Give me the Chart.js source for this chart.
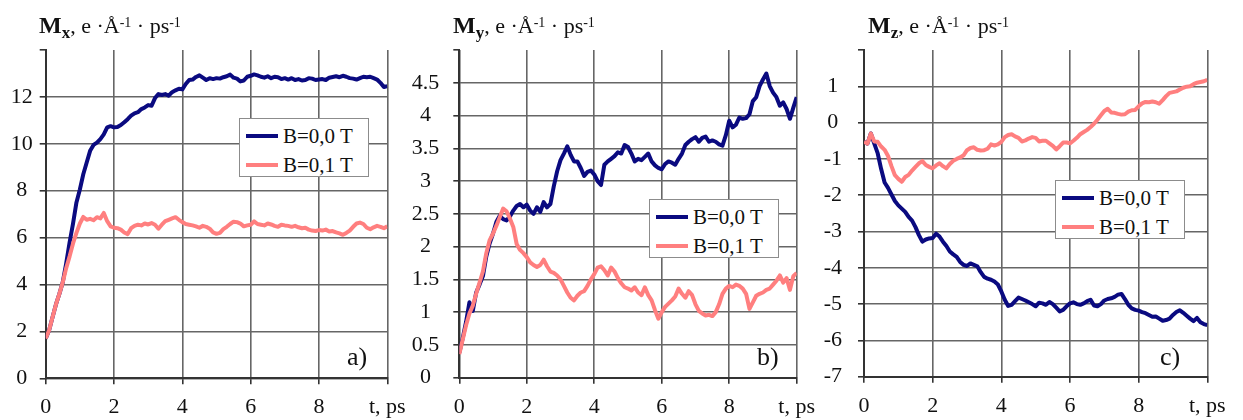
<!DOCTYPE html>
<html>
<head>
<meta charset="utf-8">
<script src="https://cdn.jsdelivr.net/npm/chart.js@4.4.1/dist/chart.umd.min.js"></script>
<style>
  html, body { margin: 0; padding: 0; background: #fff; }
  #wrap { position: relative; width: 1243px; height: 420px; overflow: hidden;
          font-family: "Liberation Serif", "Times New Roman", serif; color: #111; }
  #wrap canvas { position: absolute; top: 0; }
  .ttl { position: absolute; top: 13.5px; font-size: 22px; line-height: 22px; white-space: nowrap; }
  .ttl b { font-weight: bold; font-size: 24px; }
  .ttl .sb { font-size: 17px; position: relative; top: 5px; font-weight: bold; }
  .ttl .sp { font-size: 14px; position: relative; top: -6px; }
  .lg { position: absolute; width: 128px; height: 57px; border: 1px solid #8c8c8c; background: #fff; }
  .lg .row { position: absolute; left: 0; width: 128px; height: 24px; line-height: 24px; font-size: 21px; white-space: nowrap; }
  .lg .sw { position: absolute; left: 6px; top: 10px; width: 32px; height: 4px; }
  .lg .tx { position: absolute; left: 43px; top: 0; }
  .tag { position: absolute; top: 343.7px; font-size: 26px; line-height: 26px; }
</style>
</head>
<body>
<div id="wrap">
  <canvas id="cx" width="420" height="420" style="left:0px"></canvas>
  <canvas id="cy" width="430" height="420" style="left:410px"></canvas>
  <canvas id="cz" width="428" height="420" style="left:815px"></canvas>

  <div class="ttl" style="left:39px"><b>M</b><span class="sb">x</span>, e ·Å<span class="sp">-1</span> · ps<span class="sp">-1</span></div>
  <div class="ttl" style="left:453px"><b>M</b><span class="sb">y</span>, e ·Å<span class="sp">-1</span> · ps<span class="sp">-1</span></div>
  <div class="ttl" style="left:868px"><b>M</b><span class="sb">z</span>, e ·Å<span class="sp">-1</span> · ps<span class="sp">-1</span></div>

  <div class="lg" id="lgx" style="left:239px; top:118px"></div>
  <div class="lg" id="lgy" style="left:649px; top:199px"></div>
  <div class="lg" id="lgz" style="left:1055px; top:180px"></div>

  <div class="tag" style="left:347px">a)</div>
  <div class="tag" style="left:757px">b)</div>
  <div class="tag" style="left:1160px">c)</div>
</div>

<script>
// Time axis, ps
const timePs = [
  0, 0.1, 0.2, 0.3, 0.4, 0.5, 0.6, 0.7, 0.8, 0.9,
  1, 1.1, 1.2, 1.3, 1.4, 1.5, 1.6, 1.7, 1.8, 1.9,
  2, 2.1, 2.2, 2.3, 2.4, 2.5, 2.6, 2.7, 2.8, 2.9,
  3, 3.1, 3.2, 3.3, 3.4, 3.5, 3.6, 3.7, 3.8, 3.9,
  4, 4.1, 4.2, 4.3, 4.4, 4.5, 4.6, 4.7, 4.8, 4.9,
  5, 5.1, 5.2, 5.3, 5.4, 5.5, 5.6, 5.7, 5.8, 5.9,
  6, 6.1, 6.2, 6.3, 6.4, 6.5, 6.6, 6.7, 6.8, 6.9,
  7, 7.1, 7.2, 7.3, 7.4, 7.5, 7.6, 7.7, 7.8, 7.9,
  8, 8.1, 8.2, 8.3, 8.4, 8.5, 8.6, 8.7, 8.8, 8.9,
  9, 9.1, 9.2, 9.3, 9.4, 9.5, 9.6, 9.7, 9.8, 9.9,
  10
];

const seriesLabels = ['B=0,0 T', 'B=0,1 T'];

// Mx, e·Å^-1·ps^-1
const mxB00 = [
  1.7, 2.05, 2.6, 3.15, 3.6, 4.1, 4.9, 5.8, 6.6, 7.5,
  8.05, 8.7, 9.2, 9.7, 9.95, 10.05, 10.2, 10.4, 10.7, 10.75,
  10.7, 10.72, 10.8, 10.92, 11.05, 11.2, 11.3, 11.35, 11.48, 11.55,
  11.65, 11.62, 11.95, 12.12, 12.08, 12.12, 12.05, 12.2, 12.28, 12.35,
  12.32, 12.55, 12.72, 12.74, 12.85, 12.92, 12.82, 12.72, 12.8, 12.76,
  12.8, 12.78, 12.84, 12.88, 12.95, 12.82, 12.78, 12.66, 12.7, 12.86,
  12.9, 12.96, 12.92, 12.86, 12.82, 12.88, 12.8, 12.86, 12.84, 12.76,
  12.8, 12.74, 12.8, 12.72, 12.76, 12.7, 12.72, 12.8, 12.78, 12.72,
  12.74, 12.76, 12.72, 12.82, 12.85, 12.88, 12.84, 12.9, 12.86, 12.8,
  12.78, 12.74, 12.8, 12.86, 12.84, 12.86, 12.8, 12.74, 12.6, 12.42,
  12.46
];
const mxB01 = [
  1.7, 2.05, 2.6, 3.15, 3.6, 4.1, 4.7, 5.2, 5.75, 6.2,
  6.6, 6.88, 6.76, 6.8, 6.74, 6.87, 6.82, 7.05, 6.7, 6.48,
  6.42, 6.4, 6.34, 6.22, 6.15, 6.4, 6.5, 6.55, 6.52, 6.6,
  6.56, 6.62, 6.55, 6.38, 6.55, 6.7, 6.76, 6.82, 6.87, 6.76,
  6.66, 6.58, 6.55, 6.52, 6.48, 6.42, 6.5, 6.46, 6.38, 6.22,
  6.16, 6.2, 6.36, 6.46, 6.58, 6.68, 6.66, 6.6, 6.48, 6.52,
  6.55, 6.69, 6.58, 6.55, 6.52, 6.6, 6.56, 6.5, 6.46, 6.55,
  6.52, 6.5, 6.46, 6.5, 6.44, 6.4, 6.42, 6.34, 6.3, 6.28,
  6.32, 6.3, 6.34, 6.26, 6.28, 6.22, 6.18, 6.12, 6.2, 6.3,
  6.46, 6.6, 6.64, 6.58, 6.42, 6.36, 6.44, 6.5, 6.46, 6.4,
  6.48
];

// My, e·Å^-1·ps^-1
const myB00 = [
  0.38, 0.6, 0.85, 1.15, 1.02, 1.3, 1.42, 1.55, 1.85, 2.05,
  2.2, 2.38, 2.47, 2.42, 2.4, 2.46, 2.55, 2.62, 2.65, 2.6,
  2.64, 2.55, 2.5, 2.6, 2.53, 2.68, 2.6, 2.65, 2.92, 3.15,
  3.32, 3.42, 3.53, 3.4, 3.3, 3.3, 3.2, 3.08, 3.14, 3.16,
  3.1, 3.0, 2.94, 3.25, 3.3, 3.34, 3.38, 3.44, 3.42, 3.55,
  3.52, 3.42, 3.3, 3.34, 3.32, 3.37, 3.42, 3.3, 3.24, 3.2,
  3.18, 3.26, 3.3, 3.28, 3.25, 3.34, 3.42, 3.55, 3.6, 3.64,
  3.67, 3.6, 3.66, 3.68, 3.6, 3.62, 3.6, 3.56, 3.54, 3.7,
  3.92, 3.82, 3.86, 3.97, 3.95, 3.96, 4.02, 4.22, 4.28, 4.45,
  4.55, 4.64, 4.45, 4.35, 4.28, 4.15, 4.2, 4.1, 3.95, 4.12,
  4.28
];
const myB01 = [
  0.36, 0.58, 0.8, 0.98, 1.1, 1.28, 1.45, 1.62, 1.9, 2.1,
  2.2, 2.32, 2.45, 2.58, 2.54, 2.43, 2.3, 2.04, 1.95, 1.9,
  1.84, 1.76, 1.72, 1.69, 1.72, 1.8, 1.7, 1.62, 1.6, 1.56,
  1.5, 1.4, 1.3, 1.22, 1.18, 1.25, 1.3, 1.32, 1.4, 1.5,
  1.58, 1.68, 1.7, 1.64, 1.56, 1.68, 1.62, 1.52, 1.44, 1.38,
  1.36, 1.33, 1.38, 1.3, 1.26, 1.38, 1.26, 1.18, 1.03, 0.9,
  1.0, 1.08, 1.13, 1.18, 1.24, 1.36, 1.28, 1.22, 1.32, 1.26,
  1.12, 1.02, 0.98, 0.95, 0.96, 0.94, 1.0, 1.12, 1.28, 1.36,
  1.4, 1.38, 1.42, 1.4, 1.36, 1.28, 1.05, 1.15, 1.25, 1.28,
  1.3, 1.34, 1.36, 1.42, 1.48, 1.56, 1.45, 1.52, 1.34, 1.55,
  1.6
];

// Mz, e·Å^-1·ps^-1
const mzB00 = [
  -0.53, -0.58, -0.3, -0.58, -0.85, -1.28, -1.65, -1.8, -1.98, -2.16,
  -2.28, -2.37, -2.46, -2.6, -2.7, -2.88, -3.1, -3.28, -3.22, -3.19,
  -3.18, -3.06, -3.14, -3.28, -3.4, -3.55, -3.63, -3.7, -3.84, -3.92,
  -3.95, -3.88, -3.92, -3.96, -4.12, -4.25, -4.3, -4.33, -4.38, -4.46,
  -4.65, -4.88, -5.05, -5.02, -4.92, -4.82, -4.86, -4.9, -4.95, -5.0,
  -5.06, -4.96, -4.98, -5.02, -4.94, -5.0, -5.1, -5.2, -5.16, -5.06,
  -4.98, -4.95, -5.0, -5.02, -4.98, -4.92, -4.88, -5.04, -5.06, -5.0,
  -4.9, -4.86, -4.84, -4.8, -4.74, -4.72, -4.86, -5.02, -5.12, -5.16,
  -5.18, -5.22, -5.25, -5.3, -5.35, -5.34, -5.4, -5.46, -5.44, -5.4,
  -5.3, -5.22, -5.17, -5.24, -5.32, -5.4, -5.47, -5.38, -5.5, -5.55,
  -5.58
];
const mzB01 = [
  -0.53, -0.58, -0.3, -0.52, -0.53, -0.66, -0.75, -0.92, -1.2, -1.45,
  -1.55, -1.63, -1.5, -1.44, -1.32, -1.22, -1.12, -1.06, -1.17, -1.22,
  -1.26, -1.18, -1.12, -1.2, -1.26, -1.14, -1.05, -1.0, -0.96, -0.9,
  -0.76, -0.7, -0.68, -0.75, -0.77, -0.76, -0.72, -0.6, -0.63, -0.6,
  -0.53, -0.4, -0.34, -0.32, -0.38, -0.42, -0.52, -0.49, -0.44, -0.4,
  -0.42, -0.52, -0.5, -0.5, -0.57, -0.64, -0.74, -0.65, -0.55, -0.55,
  -0.57, -0.5, -0.42, -0.32, -0.26, -0.2, -0.12, -0.03, 0.08, 0.2,
  0.32, 0.38, 0.28, 0.27, 0.24, 0.22, 0.23, 0.3, 0.34, 0.35,
  0.45, 0.53, 0.57, 0.56, 0.58, 0.56, 0.52, 0.62, 0.73, 0.82,
  0.84, 0.86, 0.91, 0.96, 0.99, 1.0, 1.06, 1.1, 1.12, 1.14,
  1.18
];

const lineColors = ['#0a0a80', '#ff7f7f'];
const gridColor = '#666666';
const axisColor = '#333333';
const textColor = '#111111';
const tickFont = { family: '"Liberation Serif", "Times New Roman", serif', size: 22 };

function points(xs, ys) {
  return xs.map((x, i) => ({ x: x, y: ys[i] }));
}

function drawPanel(canvasId, legendId, series, yRange, box) {
  const datasets = series.map((ys, i) => ({
    label: seriesLabels[i],
    data: points(timePs, ys),
    borderColor: lineColors[i],
    backgroundColor: lineColors[i],
    borderWidth: 4,
    pointRadius: 0,
    tension: 0,
    borderJoinStyle: 'round',
    fill: false,
    order: series.length - i   // field-on curve painted over the field-off one
  }));

  const chart = new Chart(document.getElementById(canvasId), {
    type: 'line',
    data: { datasets: datasets },
    options: {
      responsive: false,
      animation: false,
      devicePixelRatio: 1,
      layout: { padding: { top: 50, right: box.padRight, left: 0, bottom: 0 } },
      plugins: { legend: { display: false }, tooltip: { enabled: false }, title: { display: false } },
      scales: {
        x: {
          type: 'linear', min: 0, max: 10,
          ticks: {
            stepSize: 2, padding: 10, maxRotation: 0, autoSkip: false,
            font: tickFont, color: textColor,
            callback: v => (v === 10 ? 't, ps' : String(v))
          },
          grid: { color: gridColor, lineWidth: 1.6, tickLength: 6, tickColor: axisColor, tickWidth: 1.6 },
          border: { color: axisColor, width: 2 },
          afterFit: s => { s.height = box.xAxisH; }
        },
        y: {
          type: 'linear', min: yRange.min, max: yRange.max,
          ticks: {
            stepSize: yRange.step, padding: box.yPad, crossAlign: 'center', autoSkip: false,
            font: tickFont, color: textColor,
            callback: v => (v === yRange.max ? '' : String(v))
          },
          grid: {
            color: c => (c.tick && c.tick.value === yRange.max ? 'rgba(0,0,0,0)' : gridColor),
            lineWidth: 1.6, tickLength: 6, tickColor: axisColor, tickWidth: 1.6
          },
          border: { color: axisColor, width: 2 },
          afterFit: s => { s.width = box.yAxisW; }
        }
      }
    }
  });

  // legend box built from the dataset labels and colours
  const lg = document.getElementById(legendId);
  chart.data.datasets.forEach((ds, i) => {
    const row = document.createElement('div');
    row.className = 'row';
    row.style.top = (5 + i * 29) + 'px';
    const sw = document.createElement('span');
    sw.className = 'sw';
    sw.style.background = ds.borderColor;
    const tx = document.createElement('span');
    tx.className = 'tx';
    tx.textContent = ds.label;
    row.appendChild(sw);
    row.appendChild(tx);
    lg.appendChild(row);
  });
  return chart;
}

drawPanel('cx', 'lgx', [mxB00, mxB01], { min: 0, max: 14, step: 2 },
          { padRight: 32.7, xAxisH: 41.7, yAxisW: 45.7, yPad: 7 });
drawPanel('cy', 'lgy', [myB00, myB01], { min: 0, max: 5, step: 0.5 },
          { padRight: 43.3, xAxisH: 42.3, yAxisW: 49.3, yPad: 14 });
drawPanel('cz', 'lgz', [mzB00, mzB01], { min: -7, max: 2, step: 1 },
          { padRight: 35.7, xAxisH: 43.3, yAxisW: 49, yPad: 16 });
</script>
</body>
</html>
